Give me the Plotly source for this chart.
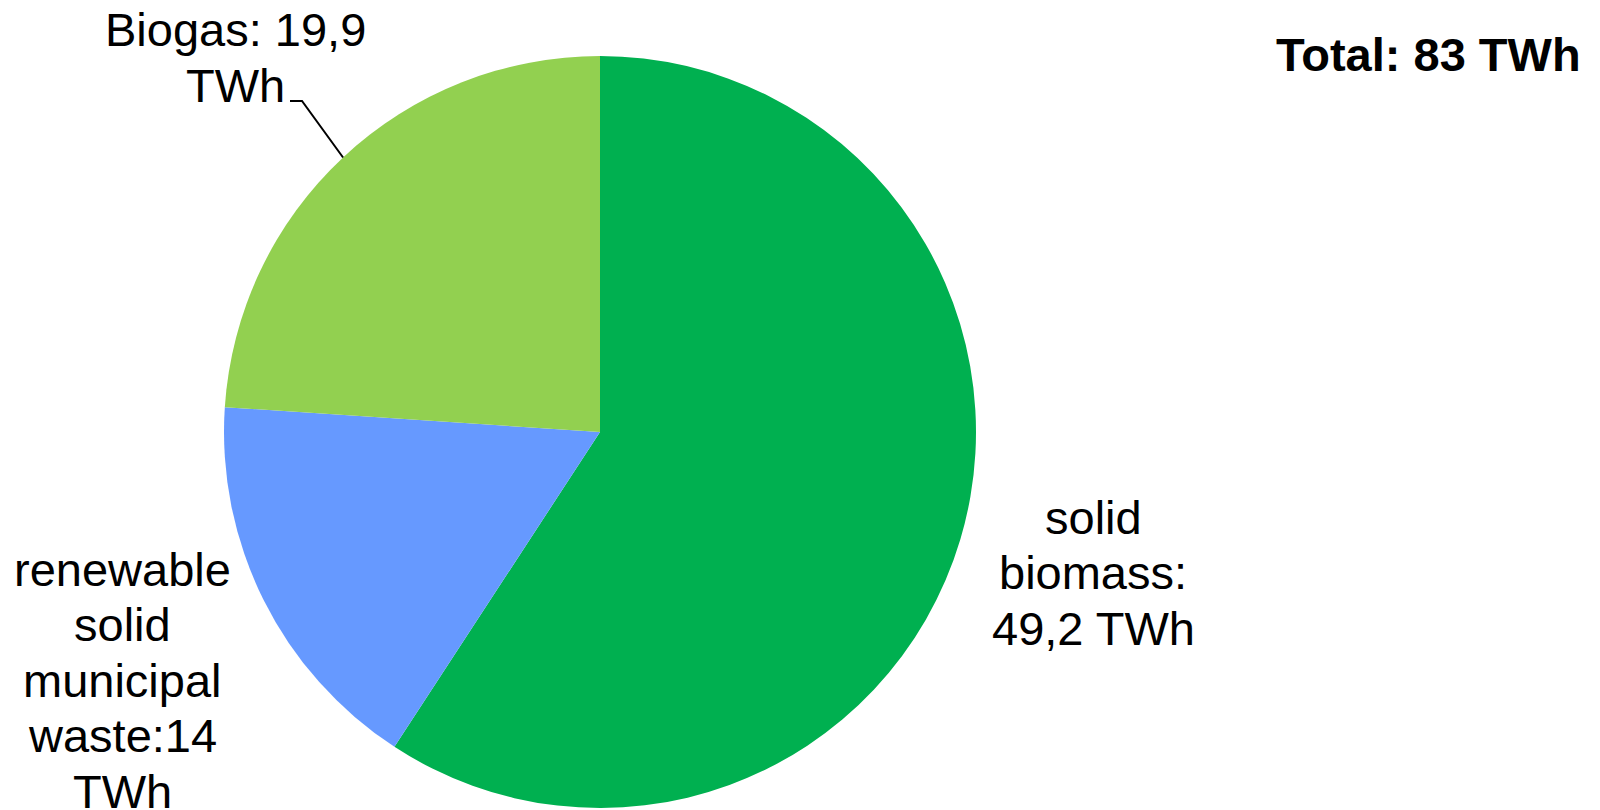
import math
import plotly.graph_objects as go

# ---- data ----
categories = ["solid biomass", "renewable solid municipal waste", "Biogas"]
values_twh = [49.2, 14.0, 19.9]
colors = ["#00B050", "#6699FF", "#92D050"]
label_lines = {
    "solid biomass": ["solid", "biomass:", "49,2 TWh"],
    "renewable solid municipal waste": ["renewable", "solid", "municipal", "waste:14", "TWh"],
    "Biogas": ["Biogas: 19,9", "TWh"],
}
total_text = "Total: 83 TWh"

W, H = 1600, 810
OFF = 8  # page body margin
CX, CY, R = 600, 432, 376  # pie centre / radius in window pixels


def px(x):
    return (x - OFF) / W


def py(y):
    return 1 - (y - OFF) / H


fig = go.Figure(
    go.Pie(
        labels=categories,
        values=values_twh,
        marker=dict(colors=colors, line=dict(width=0)),
        sort=False,
        direction="clockwise",
        rotation=0,
        textinfo="none",
        hoverinfo="label+value",
        domain=dict(x=[px(CX - R), px(CX + R)], y=[py(CY + R), py(CY - R)]),
        showlegend=False,
    )
)

FONT = dict(family="Liberation Sans, Arial, sans-serif", size=47, color="#000000")
LINE_H = 55.5

# label anchors: (centre x, first baseline y) in window pixels
label_pos = {
    "solid biomass": (1093, 533),
    "renewable solid municipal waste": (123, 585),
    "Biogas": (235, 46),
}

annotations = []
for cat in categories:
    cx, base = label_pos[cat]
    for i, line in enumerate(label_lines[cat]):
        b = base + i * LINE_H
        annotations.append(
            dict(
                text=line,
                x=px(cx),
                y=py(b - 16),
                xref="paper",
                yref="paper",
                xanchor="center",
                yanchor="middle",
                showarrow=False,
                font=FONT,
            )
        )

annotations.append(
    dict(
        text="<b>" + total_text + "</b>",
        x=px(1428),
        y=py(70 - 16),
        xref="paper",
        yref="paper",
        xanchor="center",
        yanchor="middle",
        showarrow=False,
        font=dict(family="Liberation Sans, Arial, sans-serif", size=47, color="#000000"),
    )
)

# leader line for Biogas: to the middle of the slice arc
total = sum(values_twh)
start = sum(values_twh[:2])
mid_frac = (start + values_twh[2] / 2) / total
ang = 2 * math.pi * mid_frac  # clockwise from 12 o'clock
ex = CX + R * math.sin(ang)
ey = CY - R * math.cos(ang)
path = f"M {px(290)} {py(101)} L {px(302)} {py(101)} L {px(ex)} {py(ey)}"
shapes = [
    dict(
        type="path",
        path=path,
        xref="paper",
        yref="paper",
        line=dict(color="#000000", width=2),
    )
]

fig.update_layout(
    width=W,
    height=H,
    margin=dict(l=0, r=0, t=0, b=0),
    paper_bgcolor="white",
    plot_bgcolor="white",
    annotations=annotations,
    shapes=shapes,
)

fig.write_html("out.html")
